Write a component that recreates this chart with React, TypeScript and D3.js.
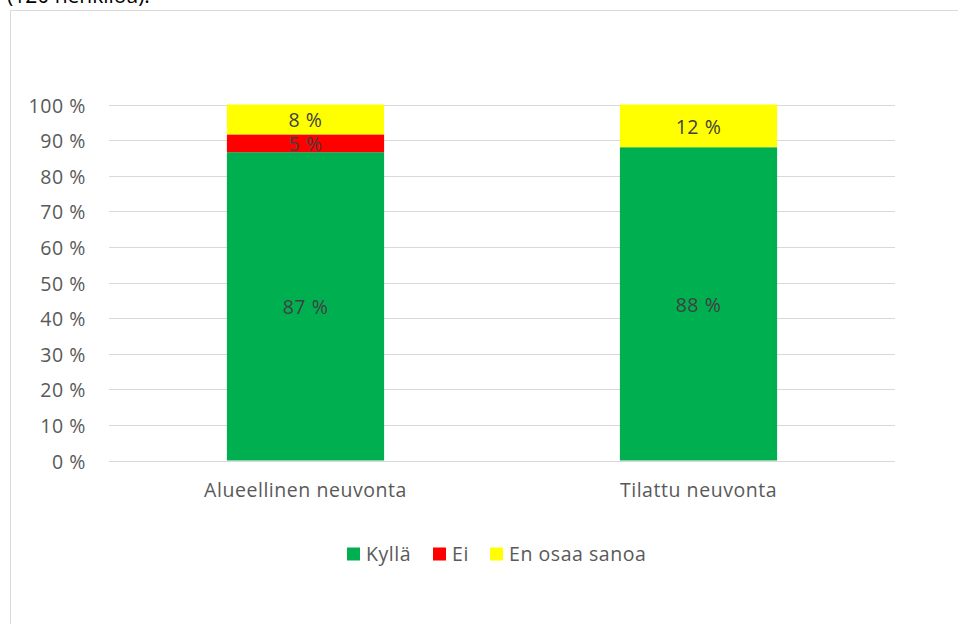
import React from "react";
import * as d3 from "d3";

const categories = ["Alueellinen neuvonta", "Tilattu neuvonta"];
const seriesNames = ["Kyllä", "Ei", "En osaa sanoa"];
const kylla = [86.6, 88.0];
const ei = [5.0, 0];
const eos = [8.4, 12.0];
const kyllaLabels = ["87 %", "88 %"];
const eiLabels = ["5 %", ""];
const eosLabels = ["8 %", "12 %"];
const yTicks = [0, 10, 20, 30, 40, 50, 60, 70, 80, 90, 100];
const colors = ["#00B050", "#FF0000", "#FFFF00"];

const W = 958;
const H = 624;
const FONT = "'Open Sans', sans-serif";
const FS = 19.5;
const LS = 0.55;

export default function App() {
  const x = d3.scaleBand<string>().domain(categories).range([109, 895]).paddingInner(0.6).paddingOuter(0.3);
  const y = d3.scaleLinear().domain([0, 100]).range([460.5, 104.5]);
  const labels = [kyllaLabels, eiLabels, eosLabels];
  const rows = categories.map((c, i) => ({ cat: c, k: kylla[i], e: ei[i], o: eos[i] }));
  const stack = d3.stack<any>().keys(["k", "e", "o"])(rows);

  const legendX = [347, 433, 490];

  return (
    <svg width={W} height={H} style={{ position: "absolute", left: 0, top: 0 }} fontFamily={FONT}>
      <rect x={0} y={0} width={W} height={H} fill="#fff" />
      <text x={7} y={3} fontSize={21} fill="#000">(120 henkilöä).</text>
      <rect x={10.5} y={10.5} width={W + 10} height={H + 10} fill="#fff" stroke="#d9d9d9" strokeWidth={1} />
      {yTicks.map((t) => (
        <g key={t}>
          <line x1={109} x2={895} y1={Math.round(y(t)) + 0.5} y2={Math.round(y(t)) + 0.5} stroke="#d9d9d9" strokeWidth={1} />
          <text x={86} y={y(t) + 8} textAnchor="end" fontSize={FS} letterSpacing={LS} fill="#595959">
            {t} %
          </text>
        </g>
      ))}
      {stack.map((s, si) => (
        <g key={si} fill={colors[si]}>
          {s.map((d, i) =>
            d[1] - d[0] > 0 ? (
              <rect
                key={i}
                x={x(categories[i])}
                width={x.bandwidth()}
                y={y(d[1])}
                height={y(d[0]) - y(d[1])}
              />
            ) : null
          )}
        </g>
      ))}
      {stack.map((s, si) =>
        s.map((d, i) =>
          labels[si][i] ? (
            <text
              key={`${si}-${i}`}
              x={(x(categories[i]) as number) + x.bandwidth() / 2}
              y={(y(d[0]) + y(d[1])) / 2 + 8}
              textAnchor="middle"
              fontSize={FS}
              letterSpacing={LS}
              fill="#404040"
            >
              {labels[si][i]}
            </text>
          ) : null
        )
      )}
      {categories.map((c) => (
        <text
          key={c}
          x={(x(c) as number) + x.bandwidth() / 2}
          y={497}
          textAnchor="middle"
          fontSize={FS}
          letterSpacing={LS}
          fill="#595959"
        >
          {c}
        </text>
      ))}
      {seriesNames.map((name, i) => (
        <g key={name}>
          <rect x={legendX[i]} y={547.5} width={13} height={13} fill={colors[i]} />
          <text x={legendX[i] + 19} y={561} fontSize={FS} letterSpacing={LS} fill="#595959">
            {name}
          </text>
        </g>
      ))}
    </svg>
  );
}
